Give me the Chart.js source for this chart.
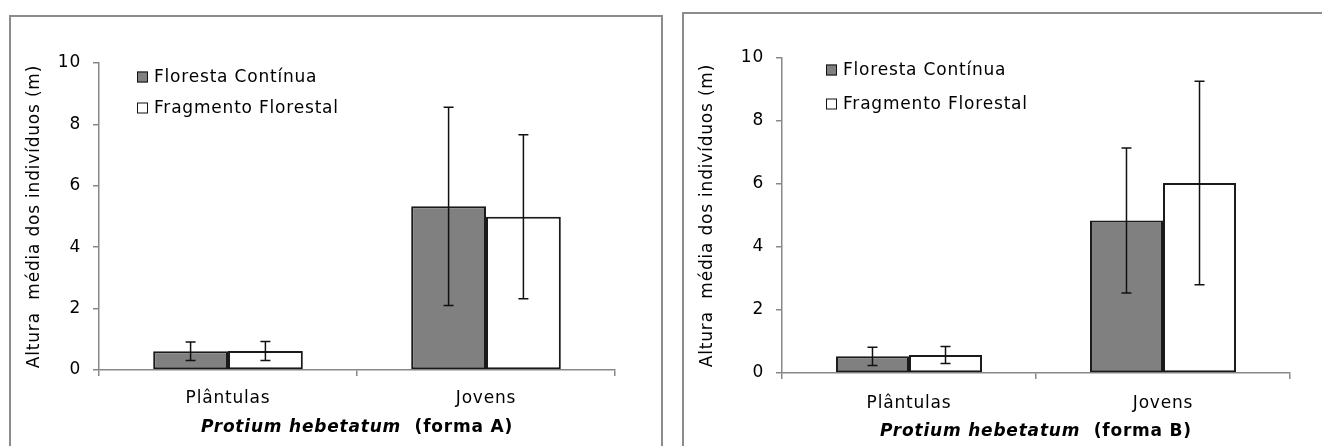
<!DOCTYPE html>
<html>
<head>
<meta charset="utf-8">
<script src="https://cdn.jsdelivr.net/npm/chart.js@4.4.0/dist/chart.umd.min.js"></script>
<style>
  body { margin: 0; background: #fff; }
  #page { position: relative; width: 1322px; height: 446px; overflow: hidden; }
  canvas { position: absolute; left: 0; top: 0; }
  .box { position: absolute; border: 2px solid #8c8c8c; box-sizing: border-box; }
</style>
</head>
<body>
<div id="page">
  <div class="box" style="left:9px; top:15px; width:654px; height:460px;"></div>
  <div class="box" style="left:682px; top:12px; width:660px; height:460px;"></div>
  <canvas id="chartA" width="1322" height="446"></canvas>
  <canvas id="chartB" width="1322" height="446"></canvas>
</div>
<script>
var categories = ['Plântulas', 'Jovens'];
var seriesNames = ['Floresta Contínua', 'Fragmento Florestal'];
var yTicks = [0, 2, 4, 6, 8, 10];

// forma A
var aContinua = [0.61, 5.33];
var aContinuaErr = [0.30, 3.23];
var aFragmento = [0.62, 4.99];
var aFragmentoErr = [0.31, 2.67];

// forma B
var bContinua = [0.53, 4.84];
var bContinuaErr = [0.29, 2.30];
var bFragmento = [0.57, 6.03];
var bFragmentoErr = [0.27, 3.23];

var FONT = 'DejaVu Sans';
var FSIZE = 17;
var SPACING = '0.8px';

// Verdana-like letter spacing for all text on the canvas
var spacing = {
    id: 'spacing',
    beforeLayout: function(chart) { chart.ctx.letterSpacing = SPACING; },
    beforeDraw: function(chart) { chart.ctx.letterSpacing = SPACING; }
};

// error bars drawn from the errors stored on each dataset
var errorBars = {
    id: 'errorBars',
    afterDatasetsDraw: function(chart) {
        var ctx = chart.ctx;
        var yScale = chart.scales.y;
        ctx.save();
        ctx.strokeStyle = '#111';
        ctx.lineWidth = 1.5;
        chart.data.datasets.forEach(function(ds, i) {
            var meta = chart.getDatasetMeta(i);
            meta.data.forEach(function(bar, j) {
                var v = ds.data[j], e = ds.errors[j];
                var top = yScale.getPixelForValue(v + e);
                var bot = yScale.getPixelForValue(v - e);
                ctx.beginPath();
                ctx.moveTo(bar.x, top); ctx.lineTo(bar.x, bot);
                ctx.moveTo(bar.x - 5, top); ctx.lineTo(bar.x + 5, top);
                ctx.moveTo(bar.x - 5, bot); ctx.lineTo(bar.x + 5, bot);
                ctx.stroke();
            });
        });
        ctx.restore();
    }
};

// legend inside the plot and the mixed-style x title
var decorations = {
    id: 'decorations',
    afterDraw: function(chart, args, opts) {
        var ctx = chart.ctx;
        var area = chart.chartArea;
        ctx.save();
        ctx.letterSpacing = SPACING;
        ctx.font = FSIZE + 'px "' + FONT + '"';
        ctx.textBaseline = 'middle';
        ctx.textAlign = 'left';
        chart.data.datasets.forEach(function(ds, i) {
            var cy = area.top + opts.legendY[i];
            var sx = area.left + opts.legendX;
            ctx.fillStyle = ds.backgroundColor;
            ctx.fillRect(sx, cy - 5.5, 11, 11);
            ctx.strokeStyle = '#111';
            ctx.lineWidth = 1;
            ctx.strokeRect(sx + 0.5, cy - 5, 10, 10);
            ctx.fillStyle = '#000';
            ctx.fillText(ds.label, sx + 17, cy + 1);
        });

        var part1 = opts.titleItalic;
        var part2 = opts.titleRest;
        ctx.font = 'italic bold ' + FSIZE + 'px "' + FONT + '"';
        var w1 = ctx.measureText(part1).width;
        ctx.font = 'bold ' + FSIZE + 'px "' + FONT + '"';
        var w2 = ctx.measureText(part2).width;
        var x0 = (area.left + area.right) / 2 - (w1 + w2) / 2;
        var ty = area.bottom + opts.titleOffset;
        ctx.fillStyle = '#000';
        ctx.font = 'italic bold ' + FSIZE + 'px "' + FONT + '"';
        ctx.fillText(part1, x0, ty);
        ctx.font = 'bold ' + FSIZE + 'px "' + FONT + '"';
        ctx.fillText(part2, x0 + w1, ty);
        ctx.restore();
    }
};

function makeChart(id, vals1, err1, vals2, err2, cfg) {
    return new Chart(document.getElementById(id), {
        type: 'bar',
        data: {
            labels: categories,
            datasets: [{
                label: seriesNames[0],
                data: vals1,
                errors: err1,
                backgroundColor: '#808080',
                borderColor: '#1a1a1a',
                borderWidth: 2,
                borderSkipped: false
            }, {
                label: seriesNames[1],
                data: vals2,
                errors: err2,
                backgroundColor: '#ffffff',
                borderColor: '#1a1a1a',
                borderWidth: 2,
                borderSkipped: false
            }]
        },
        options: {
            responsive: false,
            animation: false,
            events: [],
            datasets: { bar: { categoryPercentage: cfg.catPct, barPercentage: 1 } },
            layout: { padding: cfg.padding },
            plugins: {
                legend: { display: false },
                tooltip: { enabled: false },
                decorations: cfg.deco
            },
            scales: {
                x: {
                    afterFit: function(s) { s.height = cfg.xHeight; },
                    grid: { offset: true, drawOnChartArea: false, drawTicks: true, tickLength: 6, color: '#888', lineWidth: 1.5 },
                    border: { color: '#888', width: 1.5 },
                    ticks: { color: '#000', font: { family: FONT, size: FSIZE }, padding: cfg.xTickPad, maxRotation: 0 }
                },
                y: {
                    min: 0, max: 10,
                    afterFit: function(s) { s.width = cfg.yWidth; },
                    afterBuildTicks: function(s) { s.ticks = yTicks.map(function(v) { return { value: v }; }); },
                    grid: { drawOnChartArea: false, drawTicks: true, tickLength: 6, color: '#888', lineWidth: 1.5 },
                    border: { color: '#888', width: 1.5 },
                    ticks: { color: '#000', font: { family: FONT, size: FSIZE }, padding: 12 },
                    title: {
                        display: true,
                        text: 'Altura  média dos indivíduos (m)',
                        color: '#000',
                        font: { family: FONT, size: FSIZE },
                        padding: { top: cfg.yTitlePad, bottom: 0 }
                    }
                }
            }
        },
        plugins: [spacing, errorBars, decorations]
    });
}

makeChart('chartA', aContinua, aContinuaErr, aFragmento, aFragmentoErr, {
    padding: { left: 9, top: 63, right: 707, bottom: 0 },
    yWidth: 90, yTitlePad: 15, xHeight: 76, xTickPad: 12, catPct: 0.58,
    deco: { legendX: 38, legendY: [14, 45], titleItalic: 'Protium hebetatum', titleRest: '  (forma A)', titleOffset: 58 }
});

makeChart('chartB', bContinua, bContinuaErr, bFragmento, bFragmentoErr, {
    padding: { left: 682, top: 58, right: 32, bottom: 0 },
    yWidth: 100, yTitlePad: 15, xHeight: 73, xTickPad: 14, catPct: 0.575,
    deco: { legendX: 44, legendY: [12, 46], titleItalic: 'Protium hebetatum', titleRest: '  (forma B)', titleOffset: 59 }
});
</script>
</body>
</html>
